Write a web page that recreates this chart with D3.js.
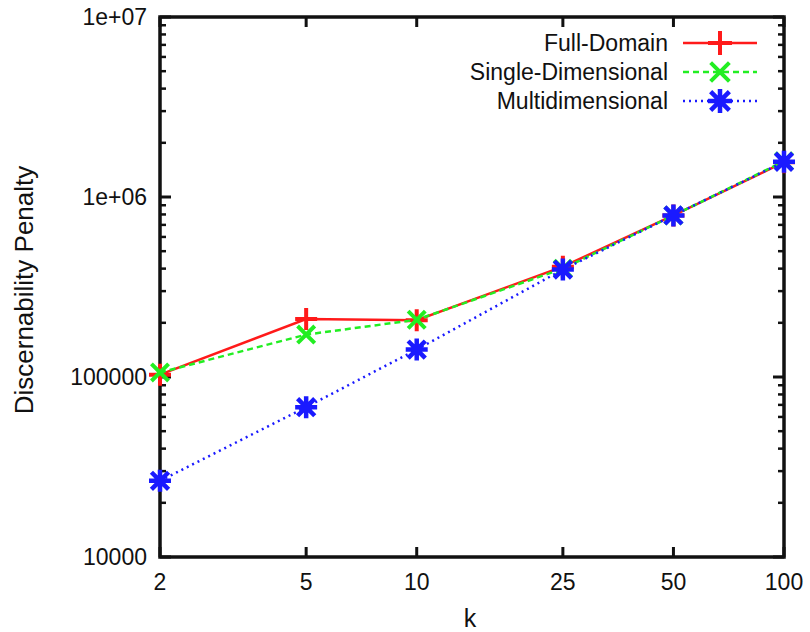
<!DOCTYPE html>
<html>
<head>
<meta charset="utf-8">
<script src="https://cdn.jsdelivr.net/npm/d3@7"></script>
<style>
  body { margin: 0; background: #fff; }
  svg text { font-family: "Liberation Sans", Arial, sans-serif; fill: #111; }
</style>
</head>
<body>
<svg id="chart" width="810" height="632"></svg>
<script>
// data
var kValues = [2, 5, 10, 25, 50, 100];
var fullDomain = [103000, 210000, 207000, 410000, 790000, 1560000];
var singleDim = [106000, 172000, 208000, 400000, 790000, 1580000];
var multiDim = [26500, 68000, 142000, 395000, 790000, 1570000];
var yTicks = [10000, 100000, 1000000, 10000000];
var yTickLabels = ["10000", "100000", "1e+06", "1e+07"];

var series = [
    {name: "Full-Domain", values: fullDomain, color: "#ff1a1a", dash: null, marker: "plus", mw: 4},
    {name: "Single-Dimensional", values: singleDim, color: "#22ee22", dash: "6,4", marker: "cross", mw: 4},
    {name: "Multidimensional", values: multiDim, color: "#1a1aff", dash: "2,4", marker: "star", mw: 4.5}
];

var svg = d3.select("#chart");
// plot frame
var _left = 160, _right = 784, _top = 17, _bottom = 557;

var x = d3.scaleLog().domain([2, 100]).range([_left, _right]);
var y = d3.scaleLog().domain([10000, 10000000]).range([_bottom, _top]);

var g = svg.append("g");

// minor / major ticks on left and right (inward)
var minor = [];
for (var e = 4; e < 7; e++) {
    for (var m = 2; m <= 9; m++) { minor.push(m * Math.pow(10, e)); }
}
minor.forEach(function(v){
    g.append("line").attr("x1", _left).attr("x2", _left + 6).attr("y1", y(v)).attr("y2", y(v))
        .attr("stroke", "#111").attr("stroke-width", 2.5);
    g.append("line").attr("x1", _right).attr("x2", _right - 6).attr("y1", y(v)).attr("y2", y(v))
        .attr("stroke", "#111").attr("stroke-width", 2.5);
});
yTicks.forEach(function(v, i){
    g.append("line").attr("x1", _left).attr("x2", _left + 11).attr("y1", y(v)).attr("y2", y(v))
        .attr("stroke", "#111").attr("stroke-width", 3);
    g.append("line").attr("x1", _right).attr("x2", _right - 11).attr("y1", y(v)).attr("y2", y(v))
        .attr("stroke", "#111").attr("stroke-width", 3);
    g.append("text").attr("x", 147).attr("y", y(v)).attr("dy", "0.36em")
        .attr("text-anchor", "end").style("font-size", "23px").text(yTickLabels[i]);
});

// x ticks bottom and top
kValues.forEach(function(k){
    g.append("line").attr("x1", x(k)).attr("x2", x(k)).attr("y1", _bottom).attr("y2", _bottom - 10)
        .attr("stroke", "#111").attr("stroke-width", 3);
    g.append("line").attr("x1", x(k)).attr("x2", x(k)).attr("y1", _top).attr("y2", _top + 10)
        .attr("stroke", "#111").attr("stroke-width", 3);
    g.append("text").attr("x", x(k)).attr("y", 590).attr("text-anchor", "middle")
        .style("font-size", "23px").text(k);
});

// frame
g.append("rect").attr("x", _left).attr("y", _top).attr("width", _right - _left).attr("height", _bottom - _top)
    .attr("fill", "none").attr("stroke", "#111").attr("stroke-width", 3.5);

// axis titles
g.append("text").attr("x", 470).attr("y", 627).attr("text-anchor", "middle")
    .style("font-size", "25px").text("k");
g.append("text").attr("transform", "translate(33,290) rotate(-90)").attr("text-anchor", "middle")
    .style("font-size", "26px").text("Discernability Penalty");

function markerPath(type, s){
    var p = d3.path();
    if (type === "plus" || type === "star") {
        p.moveTo(-s, 0); p.lineTo(s, 0);
        p.moveTo(0, -s); p.lineTo(0, s);
    }
    if (type === "cross" || type === "star") {
        var d = s * 0.78;
        p.moveTo(-d, -d); p.lineTo(d, d);
        p.moveTo(-d, d); p.lineTo(d, -d);
    }
    return p.toString();
}

var line = d3.line().x(function(d){ return x(d[0]); }).y(function(d){ return y(d[1]); });

series.forEach(function(s){
    var pts = kValues.map(function(k, i){ return [k, s.values[i]]; });
    g.append("path").attr("d", line(pts)).attr("fill", "none")
        .attr("stroke", s.color).attr("stroke-width", 2.5)
        .attr("stroke-dasharray", s.dash);
    g.selectAll(null).data(pts).enter().append("path")
        .attr("transform", function(d){ return "translate(" + x(d[0]) + "," + y(d[1]) + ")"; })
        .attr("d", markerPath(s.marker, 11))
        .attr("fill", "none").attr("stroke", s.color).attr("stroke-width", s.mw);
});

// legend
series.forEach(function(s, i){
    var ly = 43 + i * 29;
    g.append("text").attr("x", 668).attr("y", ly).attr("dy", "0.36em")
        .attr("text-anchor", "end").style("font-size", "23px").text(s.name);
    g.append("line").attr("x1", 683).attr("x2", 757).attr("y1", ly).attr("y2", ly)
        .attr("stroke", s.color).attr("stroke-width", 2.5).attr("stroke-dasharray", s.dash);
    g.append("path").attr("transform", "translate(720," + ly + ")")
        .attr("d", markerPath(s.marker, 12))
        .attr("fill", "none").attr("stroke", s.color).attr("stroke-width", s.mw);
});
</script>
</body>
</html>
